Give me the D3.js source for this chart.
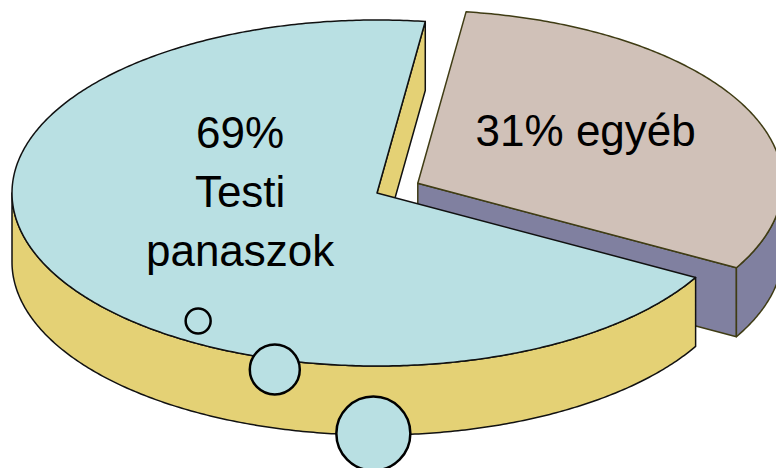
<!DOCTYPE html>
<html>
<head>
  <meta charset="utf-8">
  <script src="https://d3js.org/d3.v7.min.js"></script>
  <style>
    body { margin: 0; background: #fff; }
    text { font-family: "Liberation Sans", Arial, sans-serif; }
  </style>
</head>
<body>
  <div id="chart"></div>
  <script>
    // data
    var categories = ["egyéb", "Testi panaszok"];
    var values = [31, 69];
    var labelLines = [["31% egyéb"], ["69%", "Testi", "panaszok"]];

    // decorative bubbles (size only, placement below)
    var bubbleSizes = [12.5, 25, 37];

    var width = 776, height = 468;

    // ellipse geometry of the tilted pie
    var cx = 377, cy = 193, rx = 365, ry = 173, depth = 69;
    var startDeg = 7.6;
    var explode = [0.125, 0];

    var topColors = ["#d0c1b8", "#b9e0e3"];
    var sideColors = ["#8080a0", "#e4d175"];
    var strokeColors = ["#3f3c14", "#111"];

    var svg = d3.select("#chart").append("svg")
      .attr("width", width)
      .attr("height", height);

    var pie = d3.pie().sort(null)
      .startAngle(startDeg * Math.PI / 180)
      .endAngle(startDeg * Math.PI / 180 + 2 * Math.PI);

    var arcs = pie(values);
    var line = d3.line();

    function pt(a, ox, oy, dz) {
      return [ox + rx * Math.sin(a), oy - ry * Math.cos(a) + dz];
    }

    function arcPoints(a1, a2, ox, oy, dz) {
      var n = Math.max(2, Math.ceil(Math.abs(a2 - a1) / 0.01));
      var pts = [];
      for (var i = 0; i <= n; i++) {
        pts.push(pt(a1 + (a2 - a1) * i / n, ox, oy, dz));
      }
      return pts;
    }

    arcs.forEach(function (d, i) {
      var mid = (d.startAngle + d.endAngle) / 2;
      var ox = cx + explode[i] * rx * Math.sin(mid);
      var oy = cy - explode[i] * ry * Math.cos(mid);
      var g = svg.append("g").attr("class", "slice");

      // radial faces that face the viewer
      [[d.startAngle, -1], [d.endAngle, 1]].forEach(function (e) {
        if (e[1] * Math.sin(e[0]) > 0) {
          var p = pt(e[0], ox, oy, 0);
          g.append("path")
            .attr("d", line([[ox, oy], p, [p[0], p[1] + depth], [ox, oy + depth]]) + "Z")
            .attr("fill", sideColors[i])
            .attr("stroke", strokeColors[i])
            .attr("stroke-width", 1.5)
            .attr("stroke-linejoin", "round");
        }
      });

      // outer wall, front half only
      var a1 = Math.max(d.startAngle, Math.PI / 2);
      var a2 = Math.min(d.endAngle, 3 * Math.PI / 2);
      if (a2 > a1) {
        var top = arcPoints(a1, a2, ox, oy, 0);
        var bottom = arcPoints(a2, a1, ox, oy, depth);
        g.append("path")
          .attr("d", line(top.concat(bottom)) + "Z")
          .attr("fill", sideColors[i])
          .attr("stroke", strokeColors[i])
          .attr("stroke-width", 1.5)
          .attr("stroke-linejoin", "round");
      }

      // top face
      var face = [[ox, oy]].concat(arcPoints(d.startAngle, d.endAngle, ox, oy, 0));
      g.append("path")
        .attr("d", line(face) + "Z")
        .attr("fill", topColors[i])
        .attr("stroke", strokeColors[i])
        .attr("stroke-width", 1.5)
        .attr("stroke-linejoin", "round");

      d.ox = ox; d.oy = oy;
    });

    // labels
    var labelAnchor = [[0.46 * rx, -52], [-0.375 * rx, -60]];
    var lineHeight = 59;
    arcs.forEach(function (d, i) {
      var t = svg.append("text")
        .attr("text-anchor", "middle")
        .attr("font-size", 44)
        .attr("fill", "#000");
      labelLines[i].forEach(function (s, j) {
        t.append("tspan")
          .attr("x", d.ox + labelAnchor[i][0])
          .attr("y", d.oy + labelAnchor[i][1] + 15 + j * lineHeight)
          .text(s);
      });
    });

    // thought bubbles from the big slice
    var bubblePos = [[-0.49, 0.74], [-0.28, 1.02], [-0.01, 1.39]];
    svg.selectAll("circle.bubble")
      .data(bubbleSizes)
      .enter().append("circle")
      .attr("class", "bubble")
      .attr("cx", function (d, i) { return cx + bubblePos[i][0] * rx; })
      .attr("cy", function (d, i) { return cy + bubblePos[i][1] * ry; })
      .attr("r", function (d) { return d; })
      .attr("fill", topColors[1])
      .attr("stroke", "#000")
      .attr("stroke-width", 2.5);
  </script>
</body>
</html>
